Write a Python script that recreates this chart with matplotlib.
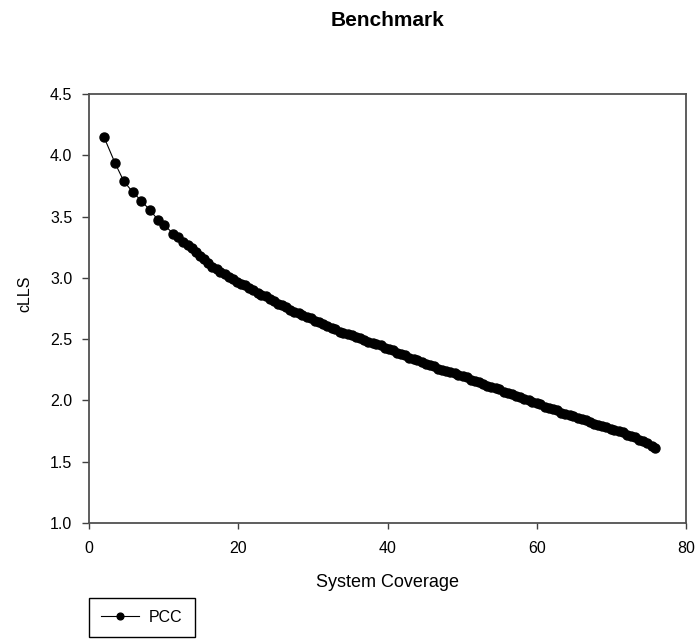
import matplotlib
matplotlib.use("Agg")
import matplotlib.pyplot as plt

plt.rcParams['font.family'] = ['Liberation Sans', 'DejaVu Sans']

# PCC benchmark series
coverage = [2.0, 3.5, 4.65, 5.85, 7.0, 8.2, 9.3, 10.1,
            11.3, 11.9, 12.6, 13.2, 13.8, 14.3, 14.9, 15.4, 16.0, 16.5,
            17.1, 17.6, 18.2, 18.7, 19.3, 19.8, 20.4, 20.9, 21.5, 22.0,
            22.6, 23.1, 23.7, 24.2, 24.8, 25.3, 25.9, 26.4, 27.0, 27.5,
            28.1, 28.6, 29.2, 29.7, 30.3, 30.8, 31.4, 31.9, 32.5, 33.0,
            33.6, 34.1, 34.7, 35.2, 35.8, 36.3, 36.9, 37.4, 38.0, 38.5,
            39.1, 39.6, 40.2, 40.7, 41.3, 41.8, 42.4, 42.9, 43.5, 44.0,
            44.6, 45.1, 45.7, 46.2, 46.8, 47.3, 47.9, 48.4, 49.0, 49.5,
            50.1, 50.6, 51.2, 51.7, 52.3, 52.8, 53.4, 53.9, 54.5, 55.0,
            55.6, 56.1, 56.7, 57.2, 57.8, 58.3, 58.9, 59.4, 60.0, 60.5,
            61.1, 61.6, 62.2, 62.7, 63.3, 63.8, 64.4, 64.9, 65.5, 66.0,
            66.6, 67.1, 67.7, 68.2, 68.8, 69.3, 69.9, 70.4, 71.0, 71.5,
            72.1, 72.6, 73.2, 73.7, 74.3, 74.8, 75.4, 75.9]
clls = [4.15, 3.935, 3.79, 3.70, 3.63, 3.55, 3.47, 3.43,
        3.36, 3.33, 3.29, 3.27, 3.24, 3.21, 3.18, 3.15, 3.12, 3.09,
        3.07, 3.05, 3.03, 3.01, 2.99, 2.97, 2.95, 2.94, 2.92, 2.90,
        2.88, 2.86, 2.85, 2.83, 2.81, 2.79, 2.78, 2.76, 2.74, 2.72,
        2.71, 2.70, 2.68, 2.67, 2.65, 2.64, 2.62, 2.61, 2.59, 2.58,
        2.56, 2.55, 2.54, 2.53, 2.52, 2.51, 2.49, 2.48, 2.47, 2.46,
        2.45, 2.43, 2.42, 2.41, 2.39, 2.38, 2.37, 2.35, 2.34, 2.33,
        2.31, 2.30, 2.29, 2.28, 2.26, 2.25, 2.24, 2.23, 2.22, 2.21,
        2.20, 2.19, 2.17, 2.16, 2.15, 2.13, 2.12, 2.11, 2.10, 2.09,
        2.07, 2.06, 2.05, 2.04, 2.03, 2.01, 2.00, 1.99, 1.98, 1.97,
        1.95, 1.94, 1.93, 1.92, 1.90, 1.89, 1.88, 1.87, 1.86, 1.85,
        1.84, 1.82, 1.81, 1.80, 1.79, 1.78, 1.77, 1.76, 1.75, 1.74,
        1.72, 1.71, 1.70, 1.68, 1.67, 1.65, 1.63, 1.61]

x_ticks = [0, 20, 40, 60, 80]
y_ticks = [1.0, 1.5, 2.0, 2.5, 3.0, 3.5, 4.0, 4.5]

fig = plt.figure(figsize=(6.98, 6.39), dpi=100)
ax = fig.add_axes([89 / 698, 1 - 523 / 639, (686 - 89) / 698, (523 - 94) / 639])

ax.plot(coverage, clls, color='black', linewidth=0.8, marker='o',
        markersize=6.5, markerfacecolor='black', markeredgecolor='black',
        label='PCC')

ax.set_xlim(0, 80)
ax.set_ylim(1.0, 4.5)
ax.set_xticks(x_ticks)
ax.set_yticks(y_ticks)
ax.set_xticklabels([str(t) for t in x_ticks])
ax.set_yticklabels([f'{t:.1f}' for t in y_ticks])
ax.tick_params(axis='both', direction='out', width=1, color='#404040',
               labelsize=11.5)
ax.tick_params(axis='x', length=4, pad=9)
ax.tick_params(axis='y', length=5, pad=7)

for s in ax.spines.values():
    s.set_color('#505050')
    s.set_linewidth(1.3)

ax.set_xlabel('System Coverage', fontsize=13)
ax.xaxis.set_label_coords(0.5, -0.118)
ax.set_ylabel('cLLS', fontsize=11.5)
ax.yaxis.set_label_coords(-0.095, 0.535)

fig.text(387 / 698, 1 - 20 / 639, 'Benchmark', ha='center', va='center',
         fontsize=15, fontweight='bold')

fig.legend(loc='upper left', bbox_to_anchor=(89 / 698, 1 - 598 / 639),
           fancybox=False, edgecolor='black', framealpha=1, fontsize=11.5,
           handlelength=2.4, handletextpad=0.6, borderpad=0.75,
           markerscale=0.75, borderaxespad=0)

fig.savefig('out.png', dpi=100)
